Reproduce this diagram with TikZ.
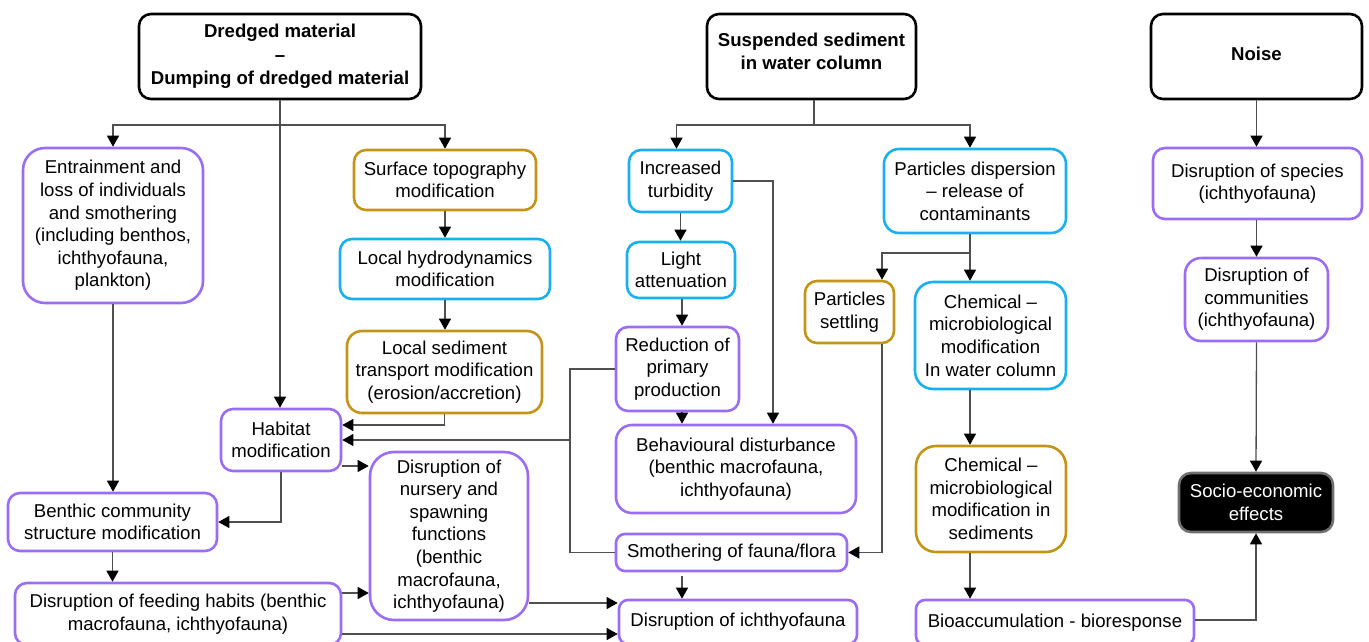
\documentclass[tikz,border=0pt]{standalone}
\usepackage{fontspec}
\setmainfont{Liberation Sans}
\usetikzlibrary{arrows.meta}

\definecolor{cpurple}{RGB}{155,108,245}
\definecolor{cgold}{RGB}{196,148,22}
\definecolor{cblue}{RGB}{24,176,238}
\definecolor{cline}{RGB}{80,80,80}
\definecolor{cframe}{RGB}{112,112,112}

\tikzset{
  box/.style={draw, line width=2.6pt, rounded corners=12pt, align=center,
    inner sep=0pt, fill=white, font=\fontsize{18.6}{22.6}\selectfont},
  head/.style={box, draw=black, font=\fontsize{18.6}{22.6}\selectfont\bfseries},
  pbox/.style={box, draw=cpurple},
  gbox/.style={box, draw=cgold},
  bbox/.style={box, draw=cblue},
  sbox/.style={box, draw=cframe, fill=black, text=white},
  conn/.style={draw=cline, line width=1.3pt},
  arr/.style={conn, -{Triangle[length=11pt,width=12pt,color=black]}},
}

% style, name, x1, x2, y1, y2; the node text follows the call
\newcommand{\bx}[6]{%
  \node[#1, minimum width={#4-#3}, minimum height={#6-#5}] (#2) at ({(#3+#4)/2},{(#5+#6)/2})}

\begin{document}
\begin{tikzpicture}[x=1pt,y=-1pt]
\useasboundingbox (0,0) rectangle (1369,641);

% source boxes
\bx{head}{dredged}{139}{421}{14}{99} {Dredged material\\[1pt]--\\[1pt]Dumping of dredged material};
\bx{head, text depth=11pt}{susp}{707}{916}{14}{99} {Suspended sediment\\in water column};
\bx{head, text depth=6pt}{noise}{1151}{1362}{14}{99} {Noise};

% dredged material branch
\bx{pbox, rounded corners=22pt}{entr}{23}{203}{148}{303} {Entrainment and\\loss of individuals\\and smothering\\(including benthos,\\ichthyofauna,\\plankton)};
\bx{gbox}{surf}{354}{536}{150}{210} {Surface topography\\modification};
\bx{bbox}{hydro}{340}{550}{239}{299} {Local hydrodynamics\\modification};
\bx{gbox, rounded corners=15pt}{sed}{347}{542}{331}{413} {Local sediment\\transport modification\\(erosion/accretion)};
\bx{pbox}{hab}{221}{341}{409}{471} {Habitat\\modification};
\bx{pbox}{benth}{8}{217}{493}{551} {Benthic community\\structure modification};
\bx{pbox}{feed}{15}{341}{583}{645} {Disruption of feeding habits (benthic\\macrofauna, ichthyofauna)};
\bx{pbox, rounded corners=24pt}{nurs}{370}{528}{452}{620} {Disruption of\\nursery and\\spawning\\functions\\(benthic\\macrofauna,\\ichthyofauna)};

% suspended sediment branch
\bx{bbox}{turb}{629}{732}{150}{212} {Increased\\turbidity};
\bx{bbox}{light}{627}{735}{242}{298} {Light\\attenuation};
\bx{pbox}{red}{616}{739}{327}{411} {Reduction of\\primary\\production};
\bx{pbox, rounded corners=16pt}{behav}{616}{856}{425}{513} {Behavioural disturbance\\(benthic macrofauna,\\ichthyofauna)};
\bx{pbox, rounded corners=9pt}{smoth}{616}{847}{534}{571} {Smothering of fauna/flora};
\bx{pbox, rounded corners=9pt}{ichth}{619}{857}{600}{644} {Disruption of ichthyofauna};
\bx{bbox, rounded corners=15pt}{disp}{884}{1066}{149}{233} {Particles dispersion\\-- release of\\contaminants};
\bx{gbox}{settl}{805}{894}{281}{343} {Particles\\settling};
\bx{bbox, rounded corners=18pt}{chemw}{915}{1066}{282}{389} {Chemical --\\microbiological\\modification\\In water column};
\bx{gbox, rounded corners=20pt}{chems}{916}{1066}{446}{552} {Chemical --\\microbiological\\modification in\\sediments};
\bx{pbox, rounded corners=9pt}{bio}{916}{1194}{600}{645} {Bioaccumulation - bioresponse};

% noise branch
\bx{pbox}{spec}{1153}{1362}{148}{219} {Disruption of species\\(ichthyofauna)};
\bx{pbox, rounded corners=16pt}{comm}{1185}{1328}{258}{341} {Disruption of\\communities\\(ichthyofauna)};
\bx{sbox}{socio}{1179}{1333}{473}{532} {Socio-economic\\effects};

% junction points and line columns
\coordinate (db) at (280,125);
\coordinate (sb) at (814,125);
\coordinate (vx) at (570,0);
\coordinate (tx) at (773,0);
\coordinate (cx) at (682,0);
\coordinate (sx) at (882,0);
\coordinate (kx) at (970,0);
\coordinate (kj) at (970,253);
\coordinate (sh) at ([yshift=15pt]hab.east);
\coordinate (hn) at ([yshift=-26pt]hab.east);
\coordinate (fn) at ([yshift=21pt]feed.east);
\coordinate (ni) at ([yshift=19pt]ichth.west);
\coordinate (fi) at ([yshift=-12pt]ichth.west);

% dredged material connectors
\draw[conn] (dredged.south) -- (db);
\draw[arr] (db) -| (entr.north);
\draw[arr] (db) -| (surf.north);
\draw[arr] (db) -- (db |- hab.north);
\draw[arr] (surf.south) -- (surf.south |- hydro.north);
\draw[arr] (hydro.south) -- (hydro.south |- sed.north);
\draw[arr] (sed.south) |- (sh);
\draw[arr] (hab.south) |- (benth.east);
\draw[arr] (hn) -- (hn -| nurs.west);
\draw[arr] (entr.south) -- (entr.south |- benth.north);
\draw[arr] (benth.south) -- (benth.south |- feed.north);
\draw[arr] (fn) -- (fn -| nurs.west);
\draw[arr] (fi -| feed.east) -- (fi);
\draw[arr] (ni -| nurs.east) -- (ni);

% suspended sediment connectors
\draw[conn] (susp.south -| sb) -- (sb);
\draw[arr] (sb) -| ([xshift=-4pt]turb.north);
\draw[arr] (sb) -| ([xshift=-5pt]disp.north);
\draw[arr] (turb.south) -- (turb.south |- light.north);
\draw[arr] (turb.east) -| (tx |- behav.north);
\draw[arr] (cx |- light.south) -- (cx |- red.north);
\draw[arr] (cx |- red.south) -- (cx |- behav.north);
\draw[arr, shorten <=4pt] (cx |- smoth.south) -- (cx |- ichth.north);
\draw[conn] (red.west) -| (vx |- smoth.west) -- (smoth.west);
\draw[arr] (vx |- hab.east) -- (hab.east);
\draw[arr] (kx |- disp.south) -- (kx |- chemw.north);
\draw[arr] (kj) -| (sx |- settl.north);
\draw[arr] (sx |- settl.south) |- (smoth.east);
\draw[arr] (kx |- chemw.south) -- (kx |- chems.north);
\draw[arr] (kx |- chems.south) -- (kx |- bio.north);
\draw[arr] ([yshift=2.5pt]bio.east) -| (socio.south);

% noise connectors
\draw[arr] (noise.south) -- (noise.south |- spec.north);
\draw[arr] (spec.south -| comm.north) -- (comm.north);
\draw[arr] (comm.south) -- (socio.north);
\end{tikzpicture}
\end{document}
